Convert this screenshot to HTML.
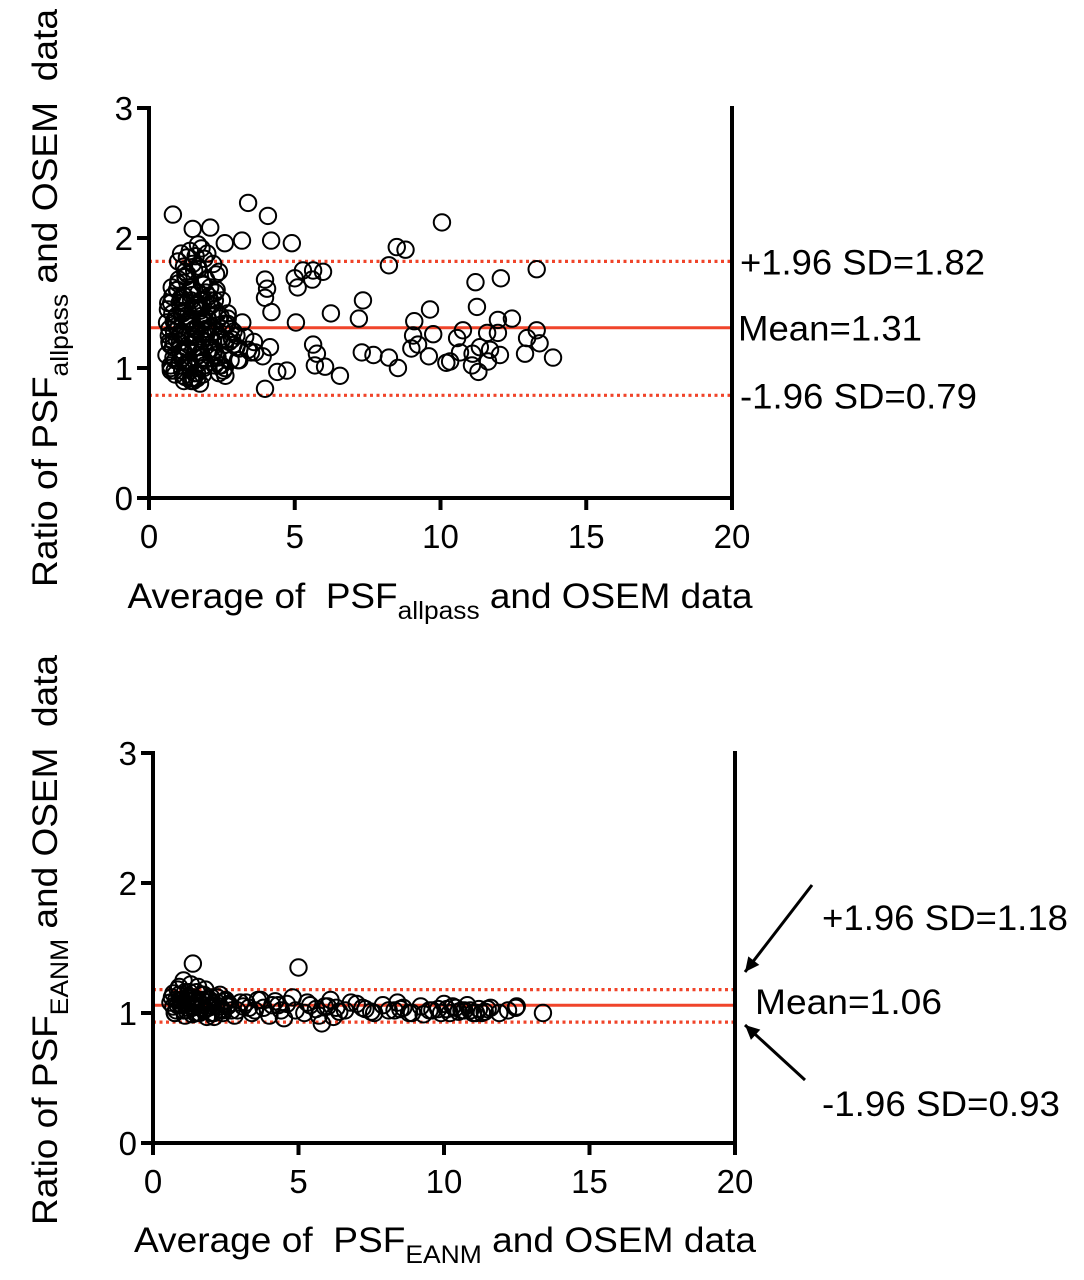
<!DOCTYPE html>
<html><head><meta charset="utf-8"><style>
body{margin:0;background:#fff;}
svg{display:block;font-family:"Liberation Sans",Arial,sans-serif;}
</style></head><body>
<svg id="chart" width="1084" height="1280" viewBox="0 0 1084 1280"></svg>
<script>
// ---- Panel A data (PSF allpass) ----
const topX = [0.82,3.40,4.08,4.19,4.9,10.05,8.5,8.8,8.23,13.3,11.2,12.07,5.28,5.63,5.97,5.0,5.1,5.6,3.98,4.05,3.98,4.2,7.34,7.2,6.24,5.04,9.64,9.1,9.75,9.06,9.23,9.6,9.0,11.25,12.45,11.97,10.77,11.6,11.97,10.57,13.3,12.97,13.4,10.67,11.35,11.1,11.7,12.04,10.33,11.08,11.3,11.63,12.9,13.86,10.2,7.3,7.7,8.23,8.54,5.63,5.76,5.69,6.04,6.55,3.98,4.15,4.73,4.4,3.9,3.64,3.19,2.1,1.5,1.68,2.6,
0.6,0.7,0.75,0.8,0.85,0.9,0.95,1.0,1.05,1.1,1.15,1.2,1.25,1.3,1.35,1.4,1.45,1.5,1.55,1.6,1.65,1.7,1.75,1.8,1.85,1.9,2.0,2.1,2.2,2.3,2.4,2.5,2.6,2.7,2.8,3.0,3.2,
0.65,0.72,0.78,0.88,0.92,1.02,1.08,1.12,1.18,1.22,1.28,1.32,1.38,1.42,1.48,1.52,1.58,1.62,1.68,1.72,1.78,1.82,1.88,1.95,2.05,2.15,2.25,2.35,2.45,2.55,2.65,2.9,3.1,
0.68,0.76,0.84,0.9,0.98,1.06,1.14,1.2,1.26,1.34,1.4,1.46,1.54,1.6,1.66,1.74,1.8,1.86,1.92,2.02,2.12,2.22,2.32,2.42,2.6,2.75,
0.62,0.74,0.86,0.96,1.04,1.16,1.24,1.36,1.44,1.56,1.64,1.76,1.84,1.96,2.08,2.28,2.48,2.7,
0.7,0.8,0.9,1.0,1.1,1.2,1.3,1.4,1.5,1.6,1.7,1.8,1.9,2.0,2.1,2.2,2.3,2.4,2.5,2.6,2.8,3.0,3.3,3.5,
0.75,0.85,0.95,1.05,1.15,1.25,1.35,1.45,1.55,1.65,1.75,1.85,1.95,2.05,2.15,2.25,2.35,2.45,2.55,2.7,2.9,3.1,3.4,
0.66,0.82,0.94,1.06,1.18,1.3,1.42,1.54,1.66,1.78,1.9,2.02,2.14,2.26,2.38,2.5,2.62,2.85,3.05,3.6,
1.0,1.1,1.2,1.3,1.4,1.5,1.6,1.7,1.8,1.9,2.0,2.2,2.4,1.25,1.45,1.65,1.85,2.3];
const topY = [2.18,2.27,2.17,1.98,1.96,2.12,1.93,1.91,1.79,1.76,1.66,1.69,1.75,1.75,1.74,1.69,1.62,1.68,1.68,1.61,1.54,1.43,1.52,1.38,1.42,1.35,1.45,1.36,1.26,1.25,1.18,1.09,1.15,1.47,1.38,1.37,1.29,1.27,1.27,1.23,1.29,1.23,1.19,1.12,1.16,1.11,1.14,1.1,1.05,1.02,0.97,1.05,1.11,1.08,1.04,1.12,1.1,1.08,1.0,1.18,1.11,1.02,1.01,0.94,0.84,1.16,0.98,0.97,1.09,1.12,1.98,2.08,2.07,1.95,1.96,
1.1,1.3,1.0,1.55,1.2,0.95,1.4,1.65,1.05,1.25,1.5,0.9,1.7,1.15,1.35,1.6,0.92,1.45,1.75,1.08,1.3,1.58,0.88,1.22,1.48,1.02,1.38,1.62,1.12,1.28,0.96,1.52,1.18,1.42,1.06,1.25,1.35,
1.45,1.18,1.62,0.98,1.32,1.68,1.12,1.42,0.94,1.55,1.25,1.72,1.05,1.38,1.6,0.9,1.2,1.48,1.78,1.1,1.35,1.65,1.0,1.3,1.55,1.15,1.45,1.08,1.4,0.98,1.22,1.28,1.15,
1.25,1.5,1.08,1.36,1.6,1.2,0.98,1.44,1.7,1.14,1.32,1.56,0.92,1.26,1.5,1.04,1.4,1.64,1.2,1.3,1.48,1.12,1.6,1.02,1.34,1.2,
1.35,1.02,1.28,1.6,1.14,1.42,1.74,1.18,1.52,0.96,1.3,1.46,1.08,1.68,1.24,1.58,1.02,1.38,
1.2,1.42,1.06,1.3,1.54,1.12,1.36,1.0,1.24,1.46,1.16,1.34,1.06,1.28,1.52,1.2,1.1,1.38,1.22,1.0,1.3,1.16,1.24,1.12,
0.98,1.36,1.22,1.5,1.08,1.4,1.18,1.62,1.3,0.96,1.44,1.26,1.58,1.14,1.32,1.02,1.42,1.24,1.1,1.34,1.18,1.06,1.14,
1.5,1.16,1.4,1.26,1.56,1.04,1.34,1.2,1.46,1.12,1.28,1.38,1.08,1.52,1.2,1.3,0.94,1.22,1.06,1.2,
1.82,1.88,1.78,1.85,1.9,1.8,1.86,1.76,1.92,1.84,1.88,1.8,1.74,0.93,0.9,0.92,0.95,1.72];
// ---- Panel B data (PSF EANM) ----
const botX = [1.37,5.0,12.47,13.4,5.8,
0.6,0.7,0.8,0.9,1.0,1.1,1.2,1.3,1.4,1.5,1.6,1.7,1.8,1.9,2.0,2.1,2.2,2.3,2.4,2.5,2.6,2.8,3.0,
0.65,0.75,0.85,0.95,1.05,1.15,1.25,1.35,1.45,1.55,1.65,1.75,1.85,1.95,2.05,2.2,2.4,2.6,2.9,
3.2,3.4,3.6,3.8,4.0,4.2,4.4,4.6,4.8,5.2,5.4,5.6,5.9,6.1,6.2,6.6,7.0,7.3,7.6,7.9,8.1,8.4,8.6,8.9,9.2,9.5,9.8,10.0,10.2,10.4,10.6,10.8,11.0,11.2,11.4,11.6,11.9,12.2,12.5,
3.3,3.7,4.1,4.5,4.9,5.3,5.7,6.3,6.8,8.5,9.3,10.3,10.9,11.3,
0.7,0.8,0.9,1.0,1.1,1.2,1.3,1.4,1.5,1.6,1.7,1.8,1.9,2.0,2.1,2.2,2.3,2.5,2.7,
0.75,0.85,0.95,1.05,1.15,1.25,1.35,1.45,1.55,1.65,1.75,1.85,2.0,2.15,2.35,2.55,
9.6,9.9,10.1,10.5,10.7,11.1,11.5,7.2,7.5,8.3,8.8,6.0,6.4,4.3,3.5,3.1];
const botY = [1.38,1.35,1.04,1.0,0.92,
1.08,1.15,1.02,1.2,1.1,0.98,1.12,1.22,1.05,1.16,1.0,1.1,1.18,1.04,1.12,0.97,1.08,1.14,1.02,1.1,1.06,0.98,1.08,
1.12,1.0,1.18,1.06,1.25,1.02,1.16,0.99,1.1,1.2,1.04,1.14,0.97,1.1,1.05,1.12,1.0,1.07,1.02,
1.08,1.0,1.1,1.04,0.98,1.09,1.02,1.07,1.12,1.0,1.06,1.03,1.05,1.1,0.97,1.02,1.07,1.03,1.0,1.06,1.02,1.08,1.04,1.0,1.05,1.02,1.03,1.07,1.0,1.04,1.02,1.06,1.0,1.03,1.01,1.04,1.0,1.02,1.05,
1.04,1.1,1.06,0.96,1.02,1.08,0.98,1.04,1.08,1.03,0.99,1.05,1.02,1.0,
1.05,1.1,1.14,1.06,1.16,1.04,1.09,1.12,1.0,1.08,1.14,1.03,1.1,1.06,1.0,1.12,1.05,1.09,1.02,
1.0,1.06,1.1,1.02,1.07,1.12,1.04,1.0,1.1,1.06,1.02,1.08,1.0,1.06,1.03,1.05,
1.02,1.0,1.03,1.01,1.02,1.0,1.03,1.04,1.01,1.02,1.0,1.05,1.01,1.06,1.02,1.05];
const yTicks = [0,1,2,3];
const xTicks = [0,5,10,15,20];
const topMean = [1.31], topUpper = [1.82], topLower = [0.79];
const botMean = [1.06], botUpper = [1.18], botLower = [0.93];

const NS = "http://www.w3.org/2000/svg";
const svg = document.getElementById('chart');
function mk(tag, attrs, parent) {
  const e = document.createElementNS(NS, tag);
  for (const k in attrs) e.setAttribute(k, attrs[k]);
  (parent || svg).appendChild(e);
  return e;
}
function panel(P, xs, ys, mean, up, lo, name) {
  const g = mk('g', {});
  
  
  const sx = v => P.x0 + v * (P.x1 - P.x0) / 20;
  const sy = v => P.y0 - v * P.unit;
  const ml = mk('line', {x1: P.x0, x2: P.x1, y1: sy(mean[0]), y2: sy(mean[0]), stroke: '#f0442a', 'stroke-width': 3}, g);
  
  
  [up[0], lo[0]].forEach(v => {
    const l = mk('line', {x1: P.x0, x2: P.x1, y1: sy(v), y2: sy(v), stroke: '#f0442a', 'stroke-width': 3.2, 'stroke-dasharray': '3 3.5'}, g);
    
    
  });
  const pg = mk('g', {fill: 'none', stroke: '#000', 'stroke-width': 2}, g);
  for (let i = 0; i < xs.length; i++) {
    const c = mk('circle', {cx: sx(xs[i]), cy: sy(ys[i]), r: 8.2}, pg);
    
    
  }
  mk('line', {x1: P.x0, x2: P.x0, y1: sy(3) - 2, y2: P.y0 + 12, stroke: '#000', 'stroke-width': 4}, g);
  mk('line', {x1: P.x0 - 2, x2: P.x1 + 2, y1: P.y0, y2: P.y0, stroke: '#000', 'stroke-width': 4}, g);
  mk('line', {x1: P.x1, x2: P.x1, y1: sy(3) - 2, y2: P.y0 + 12, stroke: '#000', 'stroke-width': 4}, g);
  yTicks.forEach(t => {
    mk('line', {x1: P.x0 - 12, x2: P.x0, y1: sy(t), y2: sy(t), stroke: '#000', 'stroke-width': 4}, g);
    const tx = mk('text', {x: P.x0 - 16, y: sy(t) + 12, 'font-size': 33, 'text-anchor': 'end'}, g);
    tx.textContent = t;
    
    
  });
  xTicks.forEach(t => {
    mk('line', {x1: sx(t), x2: sx(t), y1: P.y0, y2: P.y0 + 12, stroke: '#000', 'stroke-width': 4}, g);
    const tx = mk('text', {x: sx(t), y: P.y0 + 50, 'font-size': 33, 'text-anchor': 'middle'}, g);
    tx.textContent = t;
    
    
  });
  return {sx, sy};
}
const A = panel({x0: 149, x1: 732, y0: 498, unit: 130}, topX, topY, topMean, topUpper, topLower, 'top');
const B = panel({x0: 153, x1: 735, y0: 1143, unit: 130}, botX, botY, botMean, botUpper, botLower, 'bottom');

function label(x, y, txt, name, len) {
  const t = mk('text', {x: x, y: y, 'font-size': 35, textLength: len, lengthAdjust: 'spacingAndGlyphs'});
  t.textContent = txt;
  
  
  return t;
}
label(740, A.sy(topUpper[0]) + 13, '+1.96 SD=' + topUpper[0].toFixed(2), 'upper-limit-label', 245);
label(738, A.sy(topMean[0]) + 13, 'Mean=' + topMean[0].toFixed(2), 'mean-label', 184);
label(740, A.sy(topLower[0]) + 13, '-1.96 SD=' + topLower[0].toFixed(2), 'lower-limit-label', 237);
label(822, 930, '+1.96 SD=' + botUpper[0].toFixed(2), 'upper-limit-label', 246);
label(755, 1014, 'Mean=' + botMean[0].toFixed(2), 'mean-label', 187);
label(822, 1116, '-1.96 SD=' + botLower[0].toFixed(2), 'lower-limit-label', 238);
[[812, 885, 745, 972], [805, 1080, 745, 1025]].forEach(a => {
  const l = mk('line', {x1: a[0], y1: a[1], x2: a[2], y2: a[3], stroke: '#000', 'stroke-width': 3});
  
  
  const ang = Math.atan2(a[3] - a[1], a[2] - a[0]);
  const s = 16, w = 0.45;
  const p = [[a[2], a[3]], [a[2] - s * Math.cos(ang - w), a[3] - s * Math.sin(ang - w)], [a[2] - s * Math.cos(ang + w), a[3] - s * Math.sin(ang + w)]];
  mk('polygon', {points: p.map(q => q.join(',')).join(' '), fill: '#000'});
});
svg.insertAdjacentHTML('beforeend',
 '<text x="440" y="608" font-size="35" text-anchor="middle" textLength="625" lengthAdjust="spacingAndGlyphs">Average of&#160; PSF<tspan font-size="25" dy="11">allpass</tspan><tspan dy="-11"> and OSEM data</tspan></text>' +
 '<text transform="translate(57,298) rotate(-90)" font-size="35" text-anchor="middle" textLength="578" lengthAdjust="spacingAndGlyphs">Ratio of PSF<tspan font-size="25" dy="11">allpass</tspan><tspan dy="-11"> and OSEM&#160; data</tspan></text>' +
 '<text x="445" y="1252" font-size="35" text-anchor="middle" textLength="622" lengthAdjust="spacingAndGlyphs">Average of&#160; PSF<tspan font-size="25" dy="11">EANM</tspan><tspan dy="-11"> and OSEM data</tspan></text>' +
 '<text transform="translate(57,940) rotate(-90)" font-size="35" text-anchor="middle" textLength="570" lengthAdjust="spacingAndGlyphs">Ratio of PSF<tspan font-size="25" dy="11">EANM</tspan><tspan dy="-11"> and OSEM&#160; data</tspan></text>');
</script>
</body></html>
